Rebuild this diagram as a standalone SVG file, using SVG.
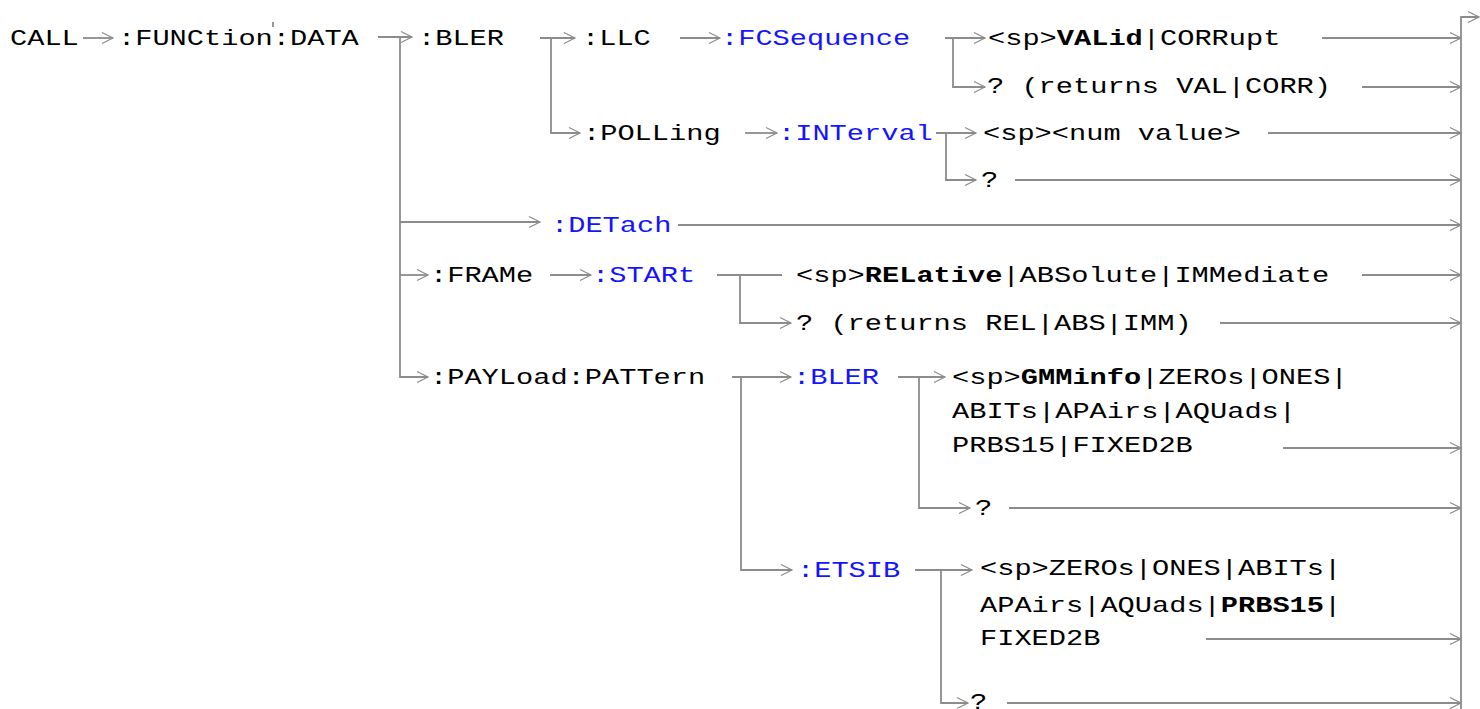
<svg xmlns="http://www.w3.org/2000/svg" width="1480" height="709" viewBox="0 0 1480 709">
<defs>
<style>
.t{font-family:"Liberation Mono","Courier New",monospace;font-size:22px;fill:#000}
.b{fill:#1414ff}
.k{font-weight:bold}
.c{fill:none;stroke:#8c8c8c;stroke-width:1.8}
.m{marker-end:url(#ah)}
</style>
<marker id="ah" markerWidth="14" markerHeight="14" refX="11" refY="6" orient="auto" markerUnits="userSpaceOnUse" overflow="visible">
<path d="M0,0.5 L11,6 L0,11.5" fill="none" stroke="#8c8c8c" stroke-width="1.2"/>
</marker>
</defs>
<rect width="1480" height="709" fill="#fff"/>
<g id="connectors">
<path class="c m" d="M83,38 H113"/>
<path class="c" d="M273,22 V27" stroke-width="1.2"/>
<path class="c m" d="M378,37 H412"/>
<path class="c m" d="M400,38 V377 H428"/>
<path class="c m" d="M540,38 H575"/>
<path class="c m" d="M551,38 V133 H580"/>
<path class="c m" d="M680,38 H720"/>
<path class="c m" d="M945,38 H985"/>
<path class="c m" d="M953,38 V87 H985"/>
<path class="c m" d="M1322,38 H1461"/>
<path class="c m" d="M1362,87 H1461"/>
<path class="c m" d="M745,133 H777"/>
<path class="c m" d="M936,133 H976"/>
<path class="c m" d="M946,133 V180 H976"/>
<path class="c m" d="M1268,133 H1461"/>
<path class="c m" d="M1015,180 H1461"/>
<path class="c m" d="M400,222 H540"/>
<path class="c m" d="M678,225 H1461"/>
<path class="c m" d="M400,275 H428"/>
<path class="c m" d="M550,275 H591"/>
<path class="c" d="M717,275 H782"/>
<path class="c m" d="M740,275 V323 H791"/>
<path class="c m" d="M1362,275 H1461"/>
<path class="c m" d="M1220,323 H1461"/>
<path class="c m" d="M732,377 H791"/>
<path class="c m" d="M741,377 V570 H792"/>
<path class="c m" d="M898,377 H945"/>
<path class="c m" d="M919,377 V508 H970"/>
<path class="c m" d="M1283,448 H1461"/>
<path class="c m" d="M1009,508 H1461"/>
<path class="c m" d="M915,570 H972"/>
<path class="c m" d="M941,570 V703 H968"/>
<path class="c m" d="M1206,639 H1461"/>
<path class="c m" d="M1007,703 H1461"/>
<path class="c m" d="M1461,709 V17 H1479"/>
</g>
<g id="n-call"><text class="t" transform="translate(10,45) scale(1.303,1)">CALL</text></g>
<g id="n-function-data"><text class="t" transform="translate(118,45) scale(1.303,1)">:FUNCtion:DATA</text></g>
<g id="n-bler"><text class="t" transform="translate(418,45) scale(1.303,1)">:BLER</text></g>
<g id="n-llc"><text class="t" transform="translate(582,45) scale(1.303,1)">:LLC</text></g>
<g id="n-fcsequence"><text class="t b" transform="translate(721,45) scale(1.303,1)">:FCSequence</text></g>
<g id="n-valid"><text class="t" transform="translate(988,45) scale(1.303,1)">&lt;sp&gt;<tspan class="k">VALid</tspan>|CORRupt</text></g>
<g id="n-fcs-query"><text class="t" transform="translate(987,93) scale(1.303,1)">? (returns VAL|CORR)</text></g>
<g id="n-polling"><text class="t" transform="translate(583,140) scale(1.303,1)">:POLLing</text></g>
<g id="n-interval"><text class="t b" transform="translate(778,140) scale(1.303,1)">:INTerval</text></g>
<g id="n-numvalue"><text class="t" transform="translate(983,140) scale(1.303,1)">&lt;sp&gt;&lt;num value&gt;</text></g>
<g id="n-int-query"><text class="t" transform="translate(981,187) scale(1.303,1)">?</text></g>
<g id="n-detach"><text class="t b" transform="translate(551,232) scale(1.303,1)">:DETach</text></g>
<g id="n-frame"><text class="t" transform="translate(430,282) scale(1.303,1)">:FRAMe</text></g>
<g id="n-start"><text class="t b" transform="translate(592,282) scale(1.303,1)">:STARt</text></g>
<g id="n-relative"><text class="t" transform="translate(796,282) scale(1.303,1)">&lt;sp&gt;<tspan class="k">RELative</tspan>|ABSolute|IMMediate</text></g>
<g id="n-start-query"><text class="t" transform="translate(796,330) scale(1.303,1)">? (returns REL|ABS|IMM)</text></g>
<g id="n-payload"><text class="t" transform="translate(430,384) scale(1.303,1)">:PAYLoad:PATTern</text></g>
<g id="n-pbler"><text class="t b" transform="translate(793,384) scale(1.303,1)">:BLER</text></g>
<g id="n-gmminfo">
<text class="t" transform="translate(952,384) scale(1.303,1)">&lt;sp&gt;<tspan class="k">GMMinfo</tspan>|ZEROs|ONES|</text>
<text class="t" transform="translate(952,418) scale(1.303,1)">ABITs|APAirs|AQUads|</text>
<text class="t" transform="translate(952,452) scale(1.303,1)">PRBS15|FIXED2B</text>
</g>
<g id="n-pbler-query"><text class="t" transform="translate(975,515) scale(1.303,1)">?</text></g>
<g id="n-etsib"><text class="t b" transform="translate(797,577) scale(1.303,1)">:ETSIB</text></g>
<g id="n-etsib-values">
<text class="t" transform="translate(980,575) scale(1.303,1)">&lt;sp&gt;ZEROs|ONES|ABITs|</text>
<text class="t" transform="translate(980,612) scale(1.303,1)">APAirs|AQUads|<tspan class="k">PRBS15</tspan>|</text>
<text class="t" transform="translate(980,645) scale(1.303,1)">FIXED2B</text>
</g>
<g id="n-etsib-query"><text class="t" transform="translate(970,709) scale(1.303,1)">?</text></g>
</svg>
